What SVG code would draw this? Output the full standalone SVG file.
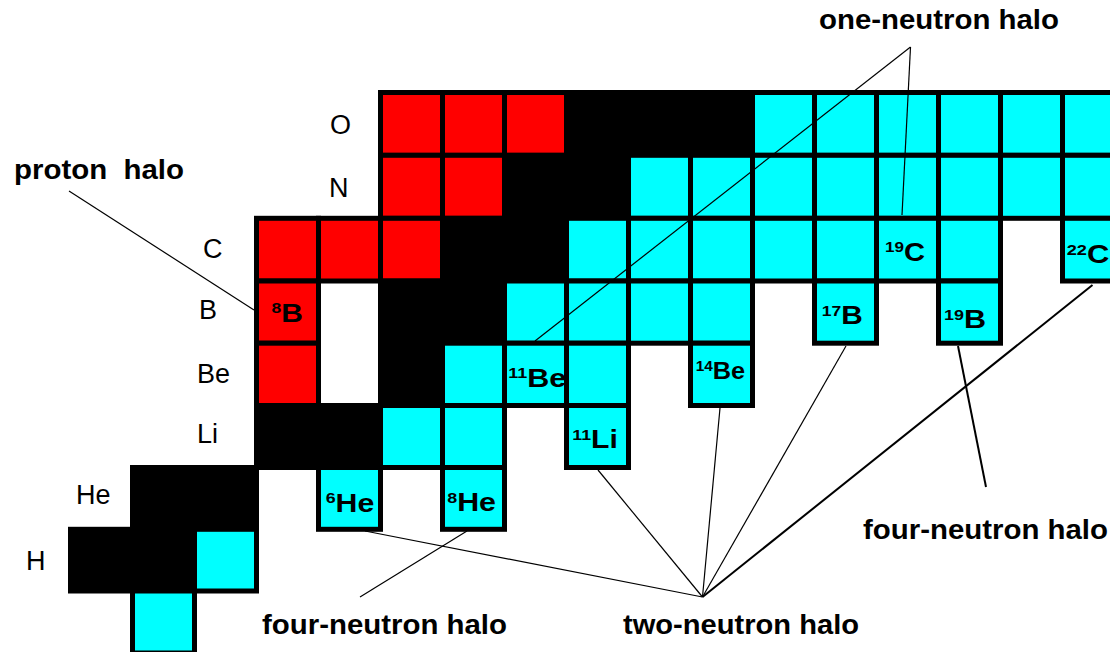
<svg xmlns="http://www.w3.org/2000/svg" width="1110" height="652" viewBox="0 0 1110 652">
<style>
.c{stroke:#000;stroke-width:5}
.r{fill:#FF0000}
.k{fill:#000000}
.y{fill:#00FFFF}
.lbl{font-family:"Liberation Sans",Arial,sans-serif;font-size:27px;fill:#000}
.halo{font-family:"Liberation Sans",Arial,sans-serif;font-size:28px;font-weight:bold;fill:#000;white-space:pre}
.iso{font-family:"Liberation Sans",Arial,sans-serif;font-size:25.5px;font-weight:bold;fill:#000}
.sup{font-size:15px}
.ln{stroke:#000;stroke-width:1.2;fill:none}
.lnb{stroke:#000;stroke-width:2;fill:none}
</style>
<rect width="1110" height="652" fill="#fff"/>
<g id="row-O">
<rect class="c r" x="380.5" y="92.5" width="62" height="62.8"/>
<rect class="c r" x="442.5" y="92.5" width="62" height="62.8"/>
<rect class="c r" x="504.5" y="92.5" width="62" height="62.8"/>
<rect class="c k" x="566.5" y="92.5" width="62" height="62.8"/>
<rect class="c k" x="628.5" y="92.5" width="62" height="62.8"/>
<rect class="c k" x="690.5" y="92.5" width="62" height="62.8"/>
<rect class="c y" x="752.5" y="92.5" width="62" height="62.8"/>
<rect class="c y" x="814.5" y="92.5" width="62" height="62.8"/>
<rect class="c y" x="876.5" y="92.5" width="62" height="62.8"/>
<rect class="c y" x="938.5" y="92.5" width="62" height="62.8"/>
<rect class="c y" x="1000.5" y="92.5" width="62" height="62.8"/>
<rect class="c y" x="1062.5" y="92.5" width="62" height="62.8"/>
</g>
<g id="row-N">
<rect class="c r" x="380.5" y="155.3" width="62" height="63"/>
<rect class="c r" x="442.5" y="155.3" width="62" height="63"/>
<rect class="c k" x="504.5" y="155.3" width="62" height="63"/>
<rect class="c k" x="566.5" y="155.3" width="62" height="63"/>
<rect class="c y" x="628.5" y="155.3" width="62" height="63"/>
<rect class="c y" x="690.5" y="155.3" width="62" height="63"/>
<rect class="c y" x="752.5" y="155.3" width="62" height="63"/>
<rect class="c y" x="814.5" y="155.3" width="62" height="63"/>
<rect class="c y" x="876.5" y="155.3" width="62" height="63"/>
<rect class="c y" x="938.5" y="155.3" width="62" height="63"/>
<rect class="c y" x="1000.5" y="155.3" width="62" height="63"/>
<rect class="c y" x="1062.5" y="155.3" width="62" height="63"/>
</g>
<g id="row-C">
<rect class="c r" x="256.5" y="218.3" width="62" height="62.7"/>
<rect class="c r" x="318.5" y="218.3" width="62" height="62.7"/>
<rect class="c r" x="380.5" y="218.3" width="62" height="62.7"/>
<rect class="c k" x="442.5" y="218.3" width="62" height="62.7"/>
<rect class="c k" x="504.5" y="218.3" width="62" height="62.7"/>
<rect class="c y" x="566.5" y="218.3" width="62" height="62.7"/>
<rect class="c y" x="628.5" y="218.3" width="62" height="62.7"/>
<rect class="c y" x="690.5" y="218.3" width="62" height="62.7"/>
<rect class="c y" x="752.5" y="218.3" width="62" height="62.7"/>
<rect class="c y" x="814.5" y="218.3" width="62" height="62.7"/>
<rect class="c y" x="938.5" y="218.3" width="62" height="62.7"/>
</g>
<g id="C19">
<rect class="c y" x="876.5" y="218.3" width="62" height="62.7"/>
<text class="iso" x="885" y="260.5" textLength="40" lengthAdjust="spacingAndGlyphs"><tspan class="sup" dy="-8.4">19</tspan><tspan dy="8.4">C</tspan></text>
</g>
<g id="C22">
<rect class="c y" x="1062.5" y="218.3" width="62" height="62.7"/>
<text class="iso" x="1066.7" y="263.3" textLength="42.5" lengthAdjust="spacingAndGlyphs"><tspan class="sup" dy="-8.4">22</tspan><tspan dy="8.4">C</tspan></text>
</g>
<g id="row-B">
<rect class="c k" x="380.5" y="281" width="62" height="62.2"/>
<rect class="c k" x="442.5" y="281" width="62" height="62.2"/>
<rect class="c y" x="504.5" y="281" width="62" height="62.2"/>
<rect class="c y" x="566.5" y="281" width="62" height="62.2"/>
<rect class="c y" x="628.5" y="281" width="62" height="62.2"/>
<rect class="c y" x="690.5" y="281" width="62" height="62.2"/>
</g>
<g id="B8">
<rect class="c r" x="256.5" y="281" width="62" height="62.2"/>
<text class="iso" x="271.5" y="321.7" textLength="31.5" lengthAdjust="spacingAndGlyphs"><tspan class="sup" dy="-8.4">8</tspan><tspan dy="8.4">B</tspan></text>
</g>
<g id="B17">
<rect class="c y" x="814.5" y="281" width="62" height="62.2"/>
<text class="iso" x="821.7" y="324.3" textLength="41" lengthAdjust="spacingAndGlyphs"><tspan class="sup" dy="-8.4">17</tspan><tspan dy="8.4">B</tspan></text>
</g>
<g id="B19">
<rect class="c y" x="938.5" y="281" width="62" height="62.2"/>
<text class="iso" x="944" y="328.3" textLength="42" lengthAdjust="spacingAndGlyphs"><tspan class="sup" dy="-8.4">19</tspan><tspan dy="8.4">B</tspan></text>
</g>
<g id="row-Be">
<rect class="c r" x="256.5" y="343.2" width="62" height="62.3"/>
<rect class="c k" x="380.5" y="343.2" width="62" height="62.3"/>
<rect class="c y" x="442.5" y="343.2" width="62" height="62.3"/>
</g>
<g id="Be11">
<rect class="c y" x="504.5" y="343.2" width="62" height="62.3"/>
<text class="iso" x="508.3" y="386.7" textLength="58" lengthAdjust="spacingAndGlyphs"><tspan class="sup" dy="-8.4">11</tspan><tspan dy="8.4">Be</tspan></text>
</g>
<g id="row-Be-right">
<rect class="c y" x="566.5" y="343.2" width="62" height="62.3"/>
</g>
<g id="Be14">
<rect class="c y" x="690.5" y="343.2" width="62" height="62.3"/>
<text class="iso" x="695.7" y="379.3" textLength="49.5" lengthAdjust="spacingAndGlyphs" style="font-size:23px"><tspan class="sup" dy="-8" style="font-size:14px">14</tspan><tspan dy="8">Be</tspan></text>
</g>
<g id="row-Li">
<rect class="c k" x="256.5" y="405.5" width="62" height="62"/>
<rect class="c k" x="318.5" y="405.5" width="62" height="62"/>
<rect class="c y" x="380.5" y="405.5" width="62" height="62"/>
<rect class="c y" x="442.5" y="405.5" width="62" height="62"/>
</g>
<g id="Li11">
<rect class="c y" x="566.5" y="405.5" width="62" height="62"/>
<text class="iso" x="572.3" y="448" textLength="45.5" lengthAdjust="spacingAndGlyphs"><tspan class="sup" dy="-8.4">11</tspan><tspan dy="8.4">Li</tspan></text>
</g>
<g id="row-He">
<rect class="c k" x="132.5" y="467.5" width="62" height="61.8"/>
<rect class="c k" x="194.5" y="467.5" width="62" height="61.8"/>
</g>
<g id="He6">
<rect class="c y" x="318.5" y="467.5" width="62" height="61.8"/>
<text class="iso" x="325.7" y="511.7" textLength="48.6" lengthAdjust="spacingAndGlyphs"><tspan class="sup" dy="-8.4">6</tspan><tspan dy="8.4">He</tspan></text>
</g>
<g id="He8">
<rect class="c y" x="442.5" y="467.5" width="62" height="61.8"/>
<text class="iso" x="447.3" y="511" textLength="48.7" lengthAdjust="spacingAndGlyphs"><tspan class="sup" dy="-8.4">8</tspan><tspan dy="8.4">He</tspan></text>
</g>
<g id="row-H">
<rect class="c k" x="70.5" y="529.3" width="62" height="61.7"/>
<rect class="c k" x="132.5" y="529.3" width="62" height="61.7"/>
<rect class="c y" x="194.5" y="529.3" width="62" height="61.7"/>
</g>
<g id="row-n">
<rect class="c y" x="132.5" y="591" width="62" height="62"/>
</g>
<g id="row-labels">
<text class="lbl" x="330" y="134">O</text>
<text class="lbl" x="329" y="197">N</text>
<text class="lbl" x="203" y="258">C</text>
<text class="lbl" x="199" y="319">B</text>
<text class="lbl" x="197" y="383">Be</text>
<text class="lbl" x="197" y="442.5">Li</text>
<text class="lbl" x="76" y="504">He</text>
<text class="lbl" x="26" y="570">H</text>
</g>
<g id="halo-labels">
<text class="halo" x="819" y="29" textLength="240" lengthAdjust="spacingAndGlyphs">one-neutron halo</text>
<text class="halo" x="14" y="179" textLength="170" lengthAdjust="spacingAndGlyphs">proton  halo</text>
<text class="halo" x="863" y="539" textLength="245" lengthAdjust="spacingAndGlyphs">four-neutron halo</text>
<text class="halo" x="262" y="634" textLength="245" lengthAdjust="spacingAndGlyphs">four-neutron halo</text>
<text class="halo" x="623" y="634" textLength="236" lengthAdjust="spacingAndGlyphs">two-neutron halo</text>
</g>
<g id="connectors">
<line class="ln" x1="69" y1="191" x2="254" y2="310"/>
<line class="ln" x1="910.5" y1="47" x2="535" y2="341"/>
<line class="ln" x1="910.5" y1="47" x2="902" y2="215"/>
<line class="ln" x1="702.5" y1="597" x2="365" y2="531"/>
<line class="ln" x1="702.5" y1="597" x2="598" y2="470"/>
<line class="ln" x1="702.5" y1="597" x2="720" y2="408"/>
<line class="ln" x1="702.5" y1="597" x2="846" y2="346"/>
<line class="lnb" x1="702.5" y1="597" x2="1092.5" y2="285"/>
<line class="ln" x1="467" y1="531" x2="360" y2="597"/>
<line class="lnb" x1="958" y1="346" x2="986" y2="487"/>
</g>
</svg>
